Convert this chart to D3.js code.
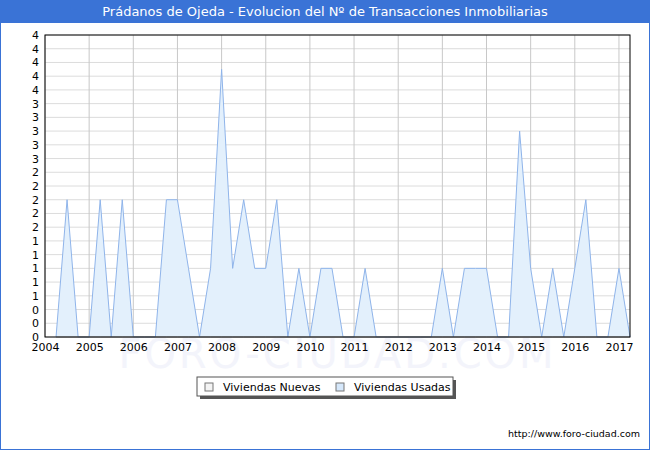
<!DOCTYPE html>
<html><head><meta charset="utf-8">
<script src="https://cdn.jsdelivr.net/npm/d3@7"></script>
<style>body{margin:0;background:#fff}svg{display:block;font-family:"DejaVu Sans",sans-serif}</style>
</head><body><svg id="c" width="650" height="450"></svg>
<script>
const title = "Prádanos de Ojeda - Evolucion del Nº de Transacciones Inmobiliarias";
const years = [2004,2005,2006,2007,2008,2009,2010,2011,2012,2013,2014,2015,2016,2017];
// quarterly points starting 2004.25
const usadas = [0,2,0,0,2,0,2,0,0,0,2,2,1,0,1,3.9,1,2,1,1,2,0,1,0,1,1,0,0,1,0,0,0,0,0,0,1,0,1,1,1,0,0,3,1,0,1,0,1,2,0,0,1,0];
const nuevas = usadas.map(()=>0);
const yTicks = d3.range(0,4.41,0.2);
const series = ["Viviendas Nuevas","Viviendas Usadas"];

const svg = d3.select("#c");
svg.append("rect").attr("x",0.5).attr("y",0.5).attr("width",649).attr("height",449).attr("fill","#fff").attr("stroke","#3a73d6");
svg.append("rect").attr("x",0).attr("y",0).attr("width",650).attr("height",23).attr("fill","#3a73d6");
svg.append("text").attr("x",325).attr("y",16).attr("text-anchor","middle").attr("fill","#fff").attr("font-size",13).text(title);

const L=45,R=630,T=35,B=337;
const x=d3.scaleLinear().domain([2004,2017.25]).range([L,R]);
const y=d3.scaleLinear().domain([0,4.4]).range([B,T]);
const t=i=>2004.25+i*0.25;

svg.append("text").attr("x",(L+R)/2).attr("y",368).attr("text-anchor","middle").attr("font-size",40).attr("fill","#f3f4fb").attr("letter-spacing",3).text("FORO-CIUDAD.COM");

const g=svg.append("g");
g.selectAll(".hg").data(yTicks).join("line").attr("x1",L).attr("x2",R).attr("y1",d=>y(d)).attr("y2",d=>y(d)).attr("stroke","#dcdcdc");
g.selectAll(".vg").data(years).join("line").attr("x1",d=>x(d)).attr("x2",d=>x(d)).attr("y1",T).attr("y2",B).attr("stroke","#c8c8c8");

const area=d3.area().x((d,i)=>x(t(i))).y0(y(0)).y1(d=>y(d));
const line=d3.line().x((d,i)=>x(t(i))).y(d=>y(d));
g.append("path").datum(usadas).attr("d",area).attr("fill","#e3f0fc");
g.append("path").datum(usadas).attr("d",line).attr("fill","none").attr("stroke","#8fb4ea").attr("stroke-width",1);
g.append("path").datum(nuevas).attr("d",line).attr("fill","none").attr("stroke","#999").attr("stroke-width",1);

g.append("rect").attr("x",L).attr("y",T).attr("width",R-L).attr("height",B-T).attr("fill","none").attr("stroke","#000");

const ya=svg.append("g").attr("transform",`translate(${L},0)`).call(d3.axisLeft(y).tickValues(yTicks).tickFormat(d=>Math.round(d+1e-9)).tickSize(0).tickPadding(6));
ya.select(".domain").remove();
ya.selectAll("text").attr("font-size",11).attr("fill","#000").style("font-family","DejaVu Sans");
const xa=svg.append("g").attr("transform",`translate(0,${B})`).call(d3.axisBottom(x).tickValues(years).tickFormat(d3.format("d")).tickSize(0).tickPadding(6));
xa.select(".domain").remove();
xa.selectAll("text").attr("font-size",11).attr("fill","#000").style("font-family","DejaVu Sans");

// legend
svg.append("rect").attr("x",200).attr("y",380).attr("width",256).attr("height",19).attr("fill","#555");
svg.append("rect").attr("x",197).attr("y",377).attr("width",256).attr("height",19).attr("fill","#fff").attr("stroke","#555");
const cols=["#f4f4f4","#d6e8fb"];
series.forEach((s,i)=>{
  const lx=205+i*131;
  svg.append("rect").attr("x",lx).attr("y",383).attr("width",8).attr("height",8).attr("fill",cols[i]).attr("stroke","#777");
  svg.append("text").attr("x",lx+18).attr("y",391).attr("font-size",11).text(s);
});
svg.append("text").attr("x",640).attr("y",437).attr("text-anchor","end").attr("font-size",9.5).text("http://www.foro-ciudad.com");
</script></body></html>
